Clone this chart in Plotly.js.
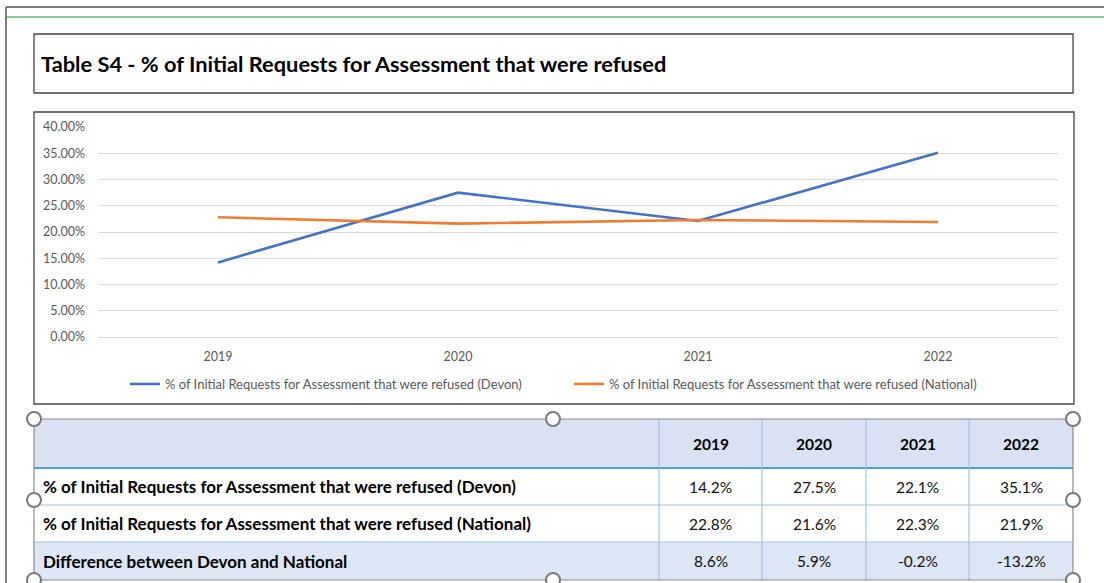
<!DOCTYPE html>
<html>
<head>
<meta charset="utf-8">
<script src="https://cdn.plot.ly/plotly-3.0.1.min.js"></script>
<style>html,body{margin:0;padding:0;background:#fff;}#chart{width:1104px;height:583px;}</style>
</head>
<body>
<div id="chart"></div>
<script>
// ---- data ----
const years = ['2019', '2020', '2021', '2022'];
const devonName = '% of Initial Requests for Assessment that were refused (Devon)';
const nationalName = '% of Initial Requests for Assessment that were refused (National)';
const diffName = 'Difference between Devon and National';
const devonPct = [14.2, 27.5, 22.1, 35.1];
const nationalPct = [22.8, 21.6, 22.3, 21.9];
const diffPct = [8.6, 5.9, -0.2, -13.2];
const yTicks = [0, 0.05, 0.10, 0.15, 0.20, 0.25, 0.30, 0.35, 0.40];
const chartTitle = 'Table S4 - % of Initial Requests for Assessment that were refused';

// ---- geometry helpers (pixel -> paper) ----
const L = 98, R = 1058, T = 127, B = 337, W = 1104, H = 583;
const px = x => (x - L) / (R - L);
const py = y => (B - y) / (B - T);
const FONT = 'Lato, "Open Sans", sans-serif';

const shapes = [];
const annotations = [];
function line(x0, y0, x1, y1, color, width) {
  shapes.push({type: 'line', xref: 'paper', yref: 'paper', x0: px(x0), y0: py(y0), x1: px(x1), y1: py(y1),
    line: {color: color, width: width}});
}
function rect(x0, y0, x1, y1, fill, color, width, layer) {
  shapes.push({type: 'rect', xref: 'paper', yref: 'paper', x0: px(x0), y0: py(y0), x1: px(x1), y1: py(y1),
    fillcolor: fill, line: {color: color, width: width}, layer: layer || 'above'});
}
function text(x, y, s, anchor, size, bold, color) {
  annotations.push({xref: 'paper', yref: 'paper', x: px(x), y: py(y), xanchor: anchor, yanchor: 'middle',
    text: bold ? '<b>' + s + '</b>' : s, showarrow: false,
    font: {family: FONT, size: size, color: color || '#000'}});
}

// page frame lines
line(6, 7, 1104, 7, '#555555', 1.5);
line(6, 7, 6, 583, '#555555', 1.5);
line(7, 17, 1104, 17, '#5cb87a', 1.5);
// title box
rect(34, 34, 1073, 93, 'rgba(0,0,0,0)', '#444444', 1.3, 'below');
// chart box
rect(34, 112, 1074, 404, 'rgba(0,0,0,0)', '#444444', 1.3, 'below');

// ---- table ----
const colX = [34, 659, 762, 866, 969, 1073];
const rowY = [419, 468, 505, 542, 580];
const blue = '#9dc3e6';
const fillHead = '#d9e1f2';
rect(34, rowY[0], 1073, rowY[1], fillHead, fillHead, 0);
rect(34, rowY[3], 1073, rowY[4], '#dce6f4', '#dce6f4', 0);
line(34, rowY[1], 1073, rowY[1], '#5b9bd5', 2);
line(34, rowY[2], 1073, rowY[2], blue, 1.2);
line(34, rowY[3], 1073, rowY[3], blue, 1.2);
for (let i = 1; i < colX.length - 1; i++) line(colX[i], rowY[0], colX[i], rowY[4], blue, 1.2);
rect(34, rowY[0], 1073, rowY[4], 'rgba(0,0,0,0)', '#8c8c8c', 1.2);

const rowLabels = [devonName, nationalName, diffName];
const rowVals = [devonPct, nationalPct, diffPct];
years.forEach((yr, j) => {
  const cx = (colX[j + 1] + colX[j + 2]) / 2;
  text(cx, (rowY[0] + rowY[1]) / 2, yr, 'center', 15.5, true);
  rowVals.forEach((vals, i) => {
    text(cx, (rowY[i + 1] + rowY[i + 2]) / 2, vals[j].toFixed(1) + '%', 'center', 15.5, false, '#111');
  });
});
rowLabels.forEach((lab, i) => text(41, (rowY[i + 1] + rowY[i + 2]) / 2, lab, 'left', 17, true));

// selection handles
const handles = [[34, 419], [553, 419], [1073, 419], [34, 500], [1073, 500], [34, 580], [553, 580], [1073, 580]];
const hr = 7;
handles.forEach(h => {
  shapes.push({type: 'circle', xref: 'paper', yref: 'paper',
    x0: px(h[0] - hr), x1: px(h[0] + hr), y0: py(h[1] + hr), y1: py(h[1] - hr),
    fillcolor: '#ffffff', line: {color: '#7a7a7a', width: 2}});
});

// ---- traces ----
const traces = [
  {type: 'scatter', mode: 'lines', name: devonName, x: years, y: devonPct.map(v => v / 100),
   line: {color: '#4472c4', width: 2.6}},
  {type: 'scatter', mode: 'lines', name: nationalName, x: years, y: nationalPct.map(v => v / 100),
   line: {color: '#ed7d31', width: 2.6}}
];

const layout = {
  width: W, height: H,
  margin: {l: L, r: W - R, t: T, b: H - B, pad: 0},
  paper_bgcolor: '#ffffff', plot_bgcolor: 'rgba(0,0,0,0)',
  title: {text: '<b>' + chartTitle + '</b>', xref: 'container', yref: 'container',
    x: 41 / W, xanchor: 'left', y: 1 - 64 / H, yanchor: 'middle',
    font: {family: FONT, size: 21.8, color: '#000'}},
  xaxis: {type: 'category', range: [-0.5, 3.5], showgrid: false, showline: false, zeroline: false,
    ticks: '', ticklabelstandoff: 10, tickfont: {family: FONT, size: 12.5, color: '#595959'}, fixedrange: true},
  yaxis: {range: [0, 0.40], tickvals: yTicks, tickformat: '.2%', showgrid: true, gridcolor: '#d9d9d9', gridwidth: 1,
    zeroline: true, zerolinecolor: '#d9d9d9', zerolinewidth: 1, showline: false, ticks: '',
    ticklabelstandoff: 12, tickfont: {family: FONT, size: 12.5, color: '#595959'}, fixedrange: true},
  showlegend: true,
  legend: {orientation: 'h', x: px(125), xanchor: 'left', y: py(369), yanchor: 'top',
    entrywidth: 399, entrywidthmode: 'pixels', itemwidth: 30,
    font: {family: FONT, size: 13, color: '#595959'}, bgcolor: 'rgba(0,0,0,0)', borderwidth: 0},
  shapes: shapes,
  annotations: annotations
};

Plotly.newPlot('chart', traces, layout, {displayModeBar: false, staticPlot: true});
</script>
</body>
</html>
